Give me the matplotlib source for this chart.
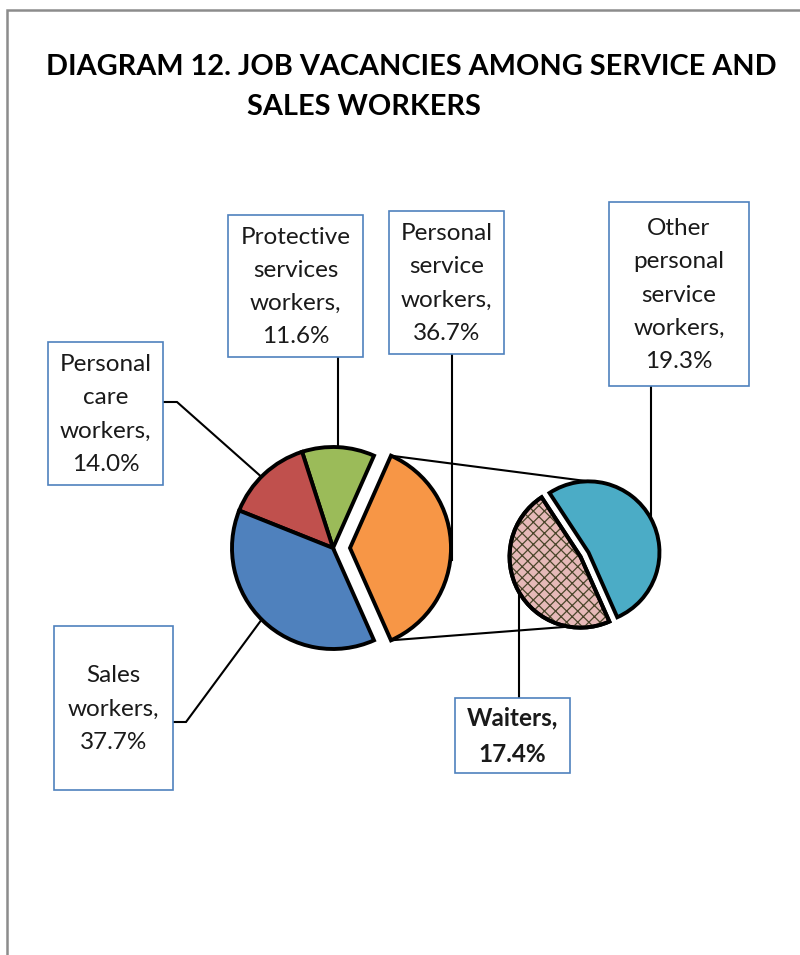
import matplotlib
matplotlib.use("Agg")
import matplotlib.pyplot as plt
from matplotlib.patches import Rectangle, Wedge
import numpy as np

# ---- data ----
main_categories = ["Sales workers", "Personal care workers", "Protective services workers", "Personal service workers"]
main_values = [37.7, 14.0, 11.6, 36.7]
main_colors = ["#4F81BD", "#C0504D", "#9BBB59", "#F79646"]
sub_categories = ["Waiters", "Other personal service workers"]
sub_values = [17.4, 19.3]
sub_colors = ["#E6B9B8", "#4BACC6"]
title_line1 = "DIAGRAM 12. JOB VACANCIES AMONG SERVICE AND"
title_line2 = "SALES WORKERS"

W, H = 800, 955
plt.rcParams['font.family'] = ['Lato', 'DejaVu Sans']
fig = plt.figure(figsize=(W / 100, H / 100), dpi=100)
ax = fig.add_axes([0, 0, 1, 1])

def Y(py):
    return H - py

# main pie: counterclockwise order from orange
order = [3, 2, 1, 0]
vals = [main_values[i] for i in order]
cols = [main_colors[i] for i in order]
start = -main_values[3] / 100 * 360 / 2
wp = dict(edgecolor="black", linewidth=2.8, joinstyle="miter")
mw, _ = ax.pie(vals, colors=cols, startangle=start, counterclock=True,
               center=(333, Y(548)), radius=101, explode=[17, 0, 0, 0],
               wedgeprops=wp)
orange = mw[0]

# secondary pie: Other then Waiters counterclockwise
svals = [sub_values[1], sub_values[0]]
scols = [sub_colors[1], sub_colors[0]]
sw, _ = ax.pie(svals, colors=scols, startangle=start, counterclock=True,
               center=(584.5, Y(554.5)), radius=71, explode=[4.5, 4.5],
               wedgeprops=wp)
waiters = sw[1]
other = sw[0]
plt.rcParams['hatch.linewidth'] = 0.9
hw = Wedge(waiters.center, waiters.r, waiters.theta1, waiters.theta2,
           facecolor="none", edgecolor="#4A452A", linewidth=0, hatch="xxx",
           zorder=waiters.get_zorder() + 0.1)
ax.add_patch(hw)
ax.add_patch(Wedge(waiters.center, waiters.r, waiters.theta1, waiters.theta2,
                   facecolor="none", edgecolor="black", linewidth=2.8,
                   zorder=waiters.get_zorder() + 0.2))

# connector lines
ocx, ocy = orange.center
t1, t2 = np.radians(orange.theta1), np.radians(orange.theta2)
top_pt = (ocx + orange.r * np.cos(t2), ocy + orange.r * np.sin(t2))
bot_pt = (ocx + orange.r * np.cos(t1), ocy + orange.r * np.sin(t1))
ax.plot([top_pt[0], other.center[0]], [top_pt[1], other.center[1] + other.r],
        color="black", lw=1.5, zorder=0.5)
ax.plot([bot_pt[0], waiters.center[0] - 12], [bot_pt[1], waiters.center[1] - waiters.r + 1],
        color="black", lw=1.5, zorder=0.5)

# leader lines
leaders = [
    [(163, 402), (177, 402), (265, 480)],
    [(338, 357), (338, 470)],
    [(452, 354), (452, 560)],
    [(651, 386), (651, 540)],
    [(173, 722), (186, 722), (265, 615)],
    [(519, 698), (519, 570)],
]
for pts in leaders:
    ax.plot([p[0] for p in pts], [Y(p[1]) for p in pts], color="black", lw=1.5,
            zorder=0.5, solid_joinstyle="miter")

# label boxes
boxes = [
    ((48, 342, 163, 485), "Personal\ncare\nworkers,\n14.0%", "normal"),
    ((228, 215, 363, 357), "Protective\nservices\nworkers,\n11.6%", "normal"),
    ((389, 211, 504, 354), "Personal\nservice\nworkers,\n36.7%", "normal"),
    ((609, 202, 749, 386), "Other\npersonal\nservice\nworkers,\n19.3%", "normal"),
    ((54, 626, 173, 790), "Sales\nworkers,\n37.7%", "normal"),
    ((455, 698, 570, 773), "Waiters,\n17.4%", "bold"),
]
for (x0, y0, x1, y1), txt, wt in boxes:
    ax.add_patch(Rectangle((x0, Y(y1)), x1 - x0, y1 - y0, facecolor="white",
                           edgecolor="#4F81BD", lw=1.2, zorder=3))
    ax.text((x0 + x1) / 2, Y((y0 + y1) / 2 + 1), txt, ha="center", va="center",
            fontsize=17.5, linespacing=1.72, color="#1a1a1a", fontweight=wt, zorder=4)

# title
ax.text(411, Y(67), title_line1, ha="center", va="center", fontsize=20.8,
        fontweight="bold", color="black")
ax.text(247, Y(107), title_line2, ha="left", va="center", fontsize=20.8,
        fontweight="bold", color="black")

# frame
ax.plot([7, 7, 800], [0, Y(10), Y(10)], color="#8c8c8c", lw=1.8,
        solid_joinstyle="miter", zorder=5)

ax.set_xlim(0, W)
ax.set_ylim(0, H)
ax.set_aspect("equal")
ax.axis("off")
fig.savefig("out.png", dpi=100)
